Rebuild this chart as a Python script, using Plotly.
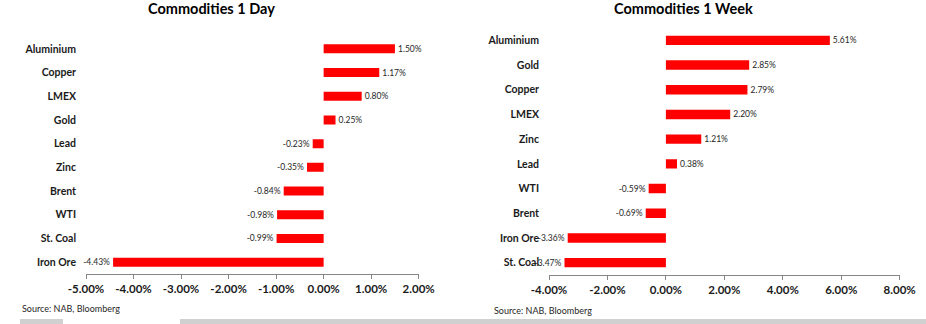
import plotly.graph_objects as go

# ---- data ----
day_categories = ["Aluminium", "Copper", "LMEX", "Gold", "Lead", "Zinc", "Brent", "WTI", "St. Coal", "Iron Ore"]
day_values = [1.50, 1.17, 0.80, 0.25, -0.23, -0.35, -0.84, -0.98, -0.99, -4.43]
day_ticks = [-5, -4, -3, -2, -1, 0, 1, 2]

week_categories = ["Aluminium", "Gold", "Copper", "LMEX", "Zinc", "Lead", "WTI", "Brent", "Iron Ore", "St. Coal"]
week_values = [5.61, 2.85, 2.79, 2.20, 1.21, 0.38, -0.59, -0.69, -3.36, -3.47]
week_ticks = [-4, -2, 0, 2, 4, 6, 8]

titles = ["Commodities 1 Day", "Commodities 1 Week"]
source_text = "Source: NAB, Bloomberg"

# ---- layout geometry (pixels) ----
W, H = 926, 324
FONT = "Lato"
RED = "#FF0000"
AXIS = "#868686"


def px_x(v):
    return v / W


def px_y(v):
    return 1 - v / H


fig = go.Figure()

panels = [
    dict(cats=day_categories, vals=day_values, ticks=day_ticks, rng=[-5, 2],
         x0=86, x1=418.7, y0=37, y1=274, xa="x", ya="y"),
    dict(cats=week_categories, vals=week_values, ticks=week_ticks, rng=[-4, 8],
         x0=549, x1=899.7, y0=28, y1=275, xa="x2", ya="y3"),
]

for p in panels:
    fig.add_trace(go.Bar(
        y=p["cats"], x=p["vals"], orientation="h",
        marker=dict(color=RED, line=dict(width=0)),
        width=0.38,
        text=[f"{v:.2f}%" for v in p["vals"]],
        textposition="outside",
        textfont=dict(family=FONT, size=8.5, color="#262626"),
        constraintext="none",
        cliponaxis=False,
        xaxis=p["xa"], yaxis=p["ya"],
        hoverinfo="skip",
        showlegend=False,
    ))

n = len(day_categories)
layout = dict(
    width=W, height=H,
    margin=dict(l=0, r=0, t=0, b=0, autoexpand=False),
    paper_bgcolor="white", plot_bgcolor="white",
    showlegend=False,
)

axis_ids = [("xaxis", "yaxis", "yaxis2", "x", "y", "y2"),
            ("xaxis2", "yaxis3", "yaxis4", "x2", "y3", "y4")]

for p, (xk, yk, yk2, xr, yr, yr2) in zip(panels, axis_ids):
    dx = [px_x(p["x0"]), px_x(p["x1"])]
    dy = [px_y(p["y1"]), px_y(p["y0"])]
    layout[xk] = dict(
        domain=dx, anchor=yr, range=p["rng"], automargin=False,
        tickvals=p["ticks"], ticktext=[f"{t:.2f}%" for t in p["ticks"]],
        showgrid=False, zeroline=False,
        showline=True, linecolor=AXIS, linewidth=1,
        ticks="outside", ticklen=4, tickcolor=AXIS,
        tickfont=dict(family=FONT, size=11.5, color="#1a1a1a", weight="bold"),
        fixedrange=True,
    )
    layout[yk] = dict(
        domain=dy, anchor=xr, type="category", automargin=False,
        categoryorder="array", categoryarray=p["cats"],
        range=[n - 0.5, -0.5],
        showgrid=False, zeroline=False, showline=False,
        ticks="", ticklabelstandoff=9,
        tickfont=dict(family=FONT, size=10.5, color="#1a1a1a", weight="bold"),
        fixedrange=True,
    )
    zero_pos = dx[0] + (0 - p["rng"][0]) / (p["rng"][1] - p["rng"][0]) * (dx[1] - dx[0])
    layout[yk2] = dict(
        domain=dy, overlaying=yr, anchor="free", position=zero_pos, automargin=False,
        type="linear", range=[n - 0.5, -0.5],
        tickvals=[i - 0.5 for i in range(n)], showticklabels=False,
        ticks="outside", ticklen=3, tickcolor=AXIS,
        showline=True, linecolor=AXIS, linewidth=1,
        showgrid=False, zeroline=False, fixedrange=True,
    )

fig.update_layout(**layout)

# titles
title_pos = [(211, 8), (683, 8)]
for t, (tx, ty) in zip(titles, title_pos):
    fig.add_annotation(text=f"<b>{t}</b>", x=px_x(tx), y=px_y(ty), xref="paper", yref="paper",
                       xanchor="center", yanchor="middle", showarrow=False,
                       font=dict(family=FONT, size=14.5, color="#000000"))

# sources
for sx, sy in [(20, 308), (492, 310)]:
    fig.add_annotation(text=source_text, x=px_x(sx), y=px_y(sy), xref="paper", yref="paper",
                       xanchor="left", yanchor="middle", showarrow=False,
                       font=dict(family=FONT, size=9, color="#262626"))

# bottom grey border strips
for bx0, bx1 in [(20, 63), (180, 926)]:
    fig.add_shape(type="rect", xref="paper", yref="paper",
                  x0=px_x(bx0), x1=px_x(bx1), y0=0, y1=px_y(319),
                  fillcolor="#d0d0d0", line=dict(width=0), layer="below")

fig.write_html("out.html")
